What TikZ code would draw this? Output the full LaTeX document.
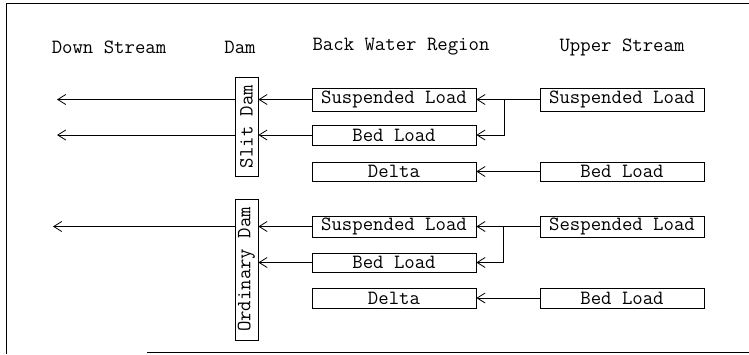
\documentclass[tikz,border=0pt]{standalone}
\usetikzlibrary{arrows.meta}
\begin{document}
\begin{tikzpicture}[x=1pt,y=-1pt,
  every node/.style={font=\fontsize{20.2}{22}\ttfamily},
  box/.style={draw,line width=0.8pt,inner sep=0pt,minimum width=164pt},
  dambox/.style={draw,line width=0.8pt,inner sep=0pt,minimum width=23pt},
  hdr/.style={inner sep=0pt,anchor=center},
  arr/.style={line width=0.8pt,-{Straight Barb[length=8pt,width=10pt,line width=0.8pt]}}]
\useasboundingbox (0,0) rectangle (749,354);
% frame
\draw[line width=1.2pt] (749,3.5) -- (6.5,3.5) -- (6.5,354);
\draw[line width=1.2pt] (147,352.5) -- (749,352.5);
% headers
\node[hdr] (h1) at (109,47) {Down Stream};
\node[hdr] (h2) at (240,47) {Dam};
\node[hdr] (h3) at (401,47) {Back Water Region};
\node[hdr] (h4) at (622,47) {Upper Stream};
% dams
\node[dambox,minimum height=99pt] (dam1) at (246.5,126.5) {\rotatebox{90}{Slit Dam}};
\node[dambox,minimum height=141pt] (dam2) at (246.5,269.5) {\rotatebox{90}{Ordinary Dam}};
% back water boxes, group 1
\node[box,minimum height=23pt] (bs1) at (394,99.5) {Suspended Load};
\node[box,minimum height=20pt] (bb1) at (394,135) {Bed Load};
\node[box,minimum height=19pt] (bd1) at (394,171.5) {Delta};
% upper stream group 1
\node[box,minimum height=23pt] (us1) at (622,99.5) {Suspended Load};
\node[box,minimum height=19pt] (ub1) at (622,171.5) {Bed Load};
% back water boxes, group 2
\node[box,minimum height=21pt] (bs2) at (394,226.5) {Suspended Load};
\node[box,minimum height=19pt] (bb2) at (394,262.5) {Bed Load};
\node[box,minimum height=20pt] (bd2) at (394,298) {Delta};
% upper stream group 2
\node[box,minimum height=21pt] (us2) at (622,226.5) {Sespended Load};
\node[box,minimum height=20pt] (ub2) at (622,298) {Bed Load};
% coordinates
\coordinate (j1) at (504,99.5);
\coordinate (j2) at (503,226.5);
\coordinate (o1) at (57,99.5);
\coordinate (o2) at (57,135);
\coordinate (o3) at (53,226.5);
% connectors group 1
\draw[arr] (us1.west) -- (bs1.east);
\draw[arr] (j1) |- (bb1.east);
\draw[arr] (ub1.west) -- (bd1.east);
\draw[arr] (bs1.west) -- (dam1.east |- bs1.west);
\draw[arr] (bb1.west) -- (dam1.east |- bb1.west);
\draw[arr] (dam1.west |- bs1.west) -- (o1);
\draw[arr] (dam1.west |- bb1.west) -- (o2);
% connectors group 2
\draw[arr] (us2.west) -- (bs2.east);
\draw[arr] (j2) |- (bb2.east);
\draw[arr] (ub2.west) -- (bd2.east);
\draw[arr] (bs2.west) -- (dam2.east |- bs2.west);
\draw[arr] (bb2.west) -- (dam2.east |- bb2.west);
\draw[arr] (dam2.west |- bs2.west) -- (o3);
\end{tikzpicture}
\end{document}
